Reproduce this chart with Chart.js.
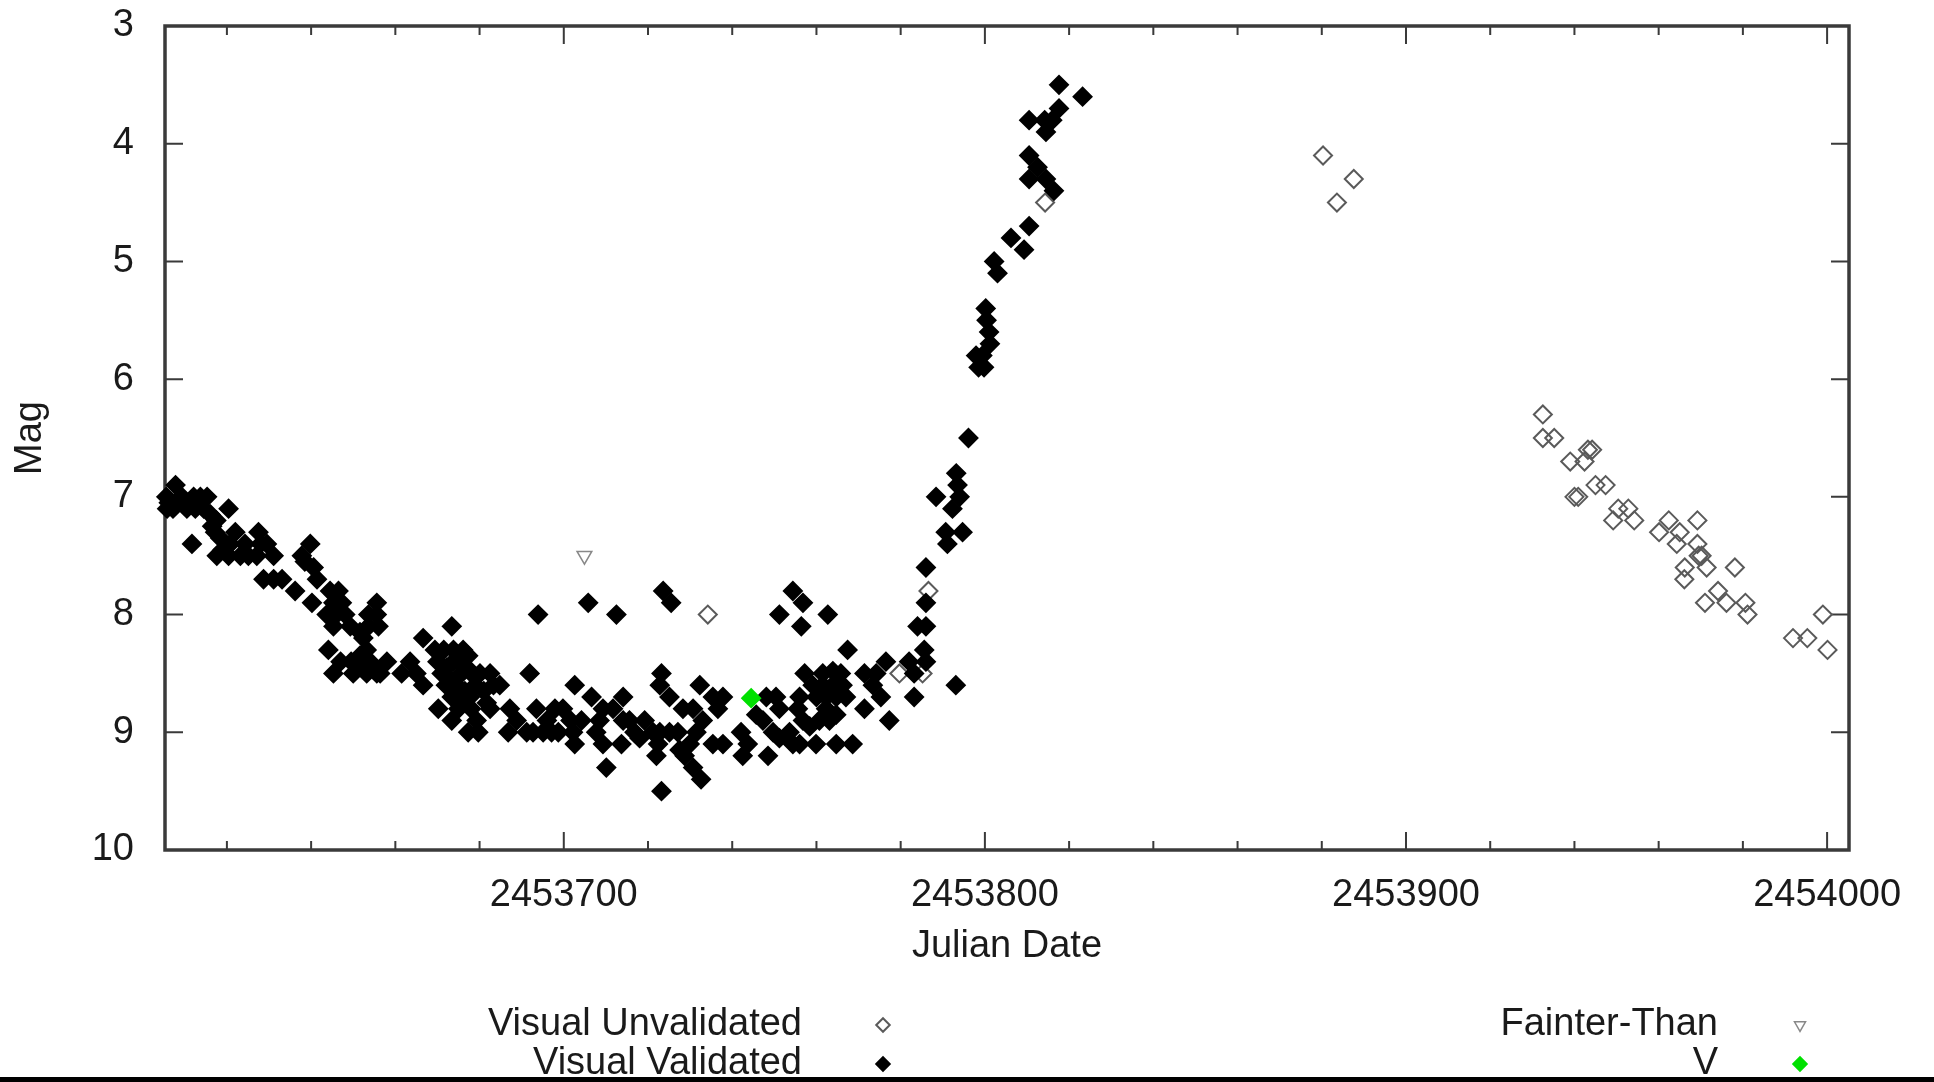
<!DOCTYPE html>
<html>
<head>
<meta charset="utf-8">
<script src="https://cdn.jsdelivr.net/npm/chart.js@4.4.1/dist/chart.umd.min.js"></script>
<style>
  html, body { margin: 0; padding: 0; background: #fff; }
  #wrap { width: 1934px; height: 1082px; }
</style>
</head>
<body>
<div id="wrap"><canvas id="lightCurve" width="1934" height="1082"></canvas></div>
<script>
// axis ranges and tick labels
const jdMin = 2453605.3;
const jdMax = 2454005.2;
const jdLabels = [2453700, 2453800, 2453900, 2454000];
const jdMinorStep = 20;
const magTicks = [3, 4, 5, 6, 7, 8, 9, 10];

// observations: [Julian Date, magnitude]
const validated = [
  [2453605.6,7.0],[2453606.2,7.05],[2453607.8,6.9],[2453607.8,7.05],[2453609.3,7.0],[2453605.8,7.1],[2453607.2,7.1],
  [2453610.5,7.1],[2453612.1,7.0],[2453613.7,7.0],[2453615.3,7.0],[2453612.5,7.1],[2453611.7,7.4],[2453614.5,7.1],
  [2453616.1,7.15],[2453617.5,7.2],[2453620.4,7.1],[2453616.5,7.25],[2453617.2,7.3],[2453618.4,7.35],[2453617.6,7.5],
  [2453619.0,7.45],[2453620.8,7.4],[2453622.0,7.3],[2453620.4,7.5],[2453623.2,7.5],[2453625.1,7.5],[2453624.3,7.4],
  [2453627.5,7.3],[2453628.0,7.4],[2453627.1,7.5],[2453629.5,7.4],[2453631.1,7.5],[2453628.7,7.7],[2453631.1,7.7],
  [2453633.1,7.7],
  [2453636.2,7.8],[2453637.8,7.5],[2453639.8,7.4],[2453638.5,7.55],[2453640.6,7.6],[2453641.4,7.7],[2453640.2,7.9],
  [2453644.5,7.8],[2453646.5,7.8],[2453645.3,7.9],[2453647.3,7.9],[2453643.7,8.0],[2453646.0,8.0],[2453645.3,8.1],
  [2453648.1,8.0],[2453649.3,8.1],[2453644.1,8.3],[2453645.3,8.5],[2453647.0,8.4],[2453649.5,8.4],[2453650.0,8.5],
  [2453652.0,8.45],[2453653.2,8.5],[2453655.6,8.5],[2453655.6,7.9],[2453653.6,8.0],[2453655.6,8.0],[2453656.0,8.1],
  [2453653.6,8.1],[2453651.6,8.15],[2453652.4,8.2],[2453653.2,8.3],[2453651.6,8.35],[2453654.0,8.4],[2453654.8,8.45],
  [2453658.0,8.4],[2453656.4,8.5],
  [2453661.5,8.5],[2453666.6,8.2],[2453663.5,8.4],[2453665.0,8.5],[2453666.6,8.6],[2453673.4,8.1],[2453669.4,8.3],
  [2453671.5,8.3],[2453673.8,8.3],[2453676.1,8.3],[2453677.3,8.35],[2453670.0,8.4],[2453672.2,8.45],[2453673.8,8.4],
  [2453675.3,8.4],[2453677.0,8.45],[2453671.0,8.5],[2453673.0,8.55],[2453675.7,8.5],[2453678.1,8.5],[2453680.1,8.5],
  [2453682.5,8.5],[2453683.3,8.6],[2453684.8,8.6],[2453672.0,8.6],[2453674.5,8.6],[2453676.5,8.65],[2453679.0,8.6],
  [2453681.0,8.65],[2453670.2,8.8],[2453673.4,8.7],[2453675.3,8.75],[2453677.7,8.7],[2453675.0,8.8],[2453678.0,8.8],
  [2453673.4,8.9],[2453679.3,8.9],[2453677.3,9.0],[2453679.7,9.0],[2453681.7,8.75],[2453682.5,8.8],[2453686.8,9.0],
  [2453687.2,8.8],[2453688.8,8.9],[2453691.2,9.0],[2453692.7,9.0],[2453695.1,9.0],[2453697.1,9.0],[2453698.7,9.0],
  [2453693.5,8.8],[2453696.0,8.9],[2453697.9,8.8],[2453699.8,8.8],[2453701.6,8.9],[2453691.9,8.5],[2453693.9,8.0],
  [2453702.6,8.6],[2453706.6,8.7],[2453714.1,8.7],[2453702.2,9.0],[2453704.2,8.9],[2453709.3,8.8],[2453708.5,8.9],
  [2453707.7,9.0],[2453709.3,9.1],[2453711.7,8.8],[2453714.1,8.9],[2453715.6,8.9],[2453719.2,8.9],[2453702.6,9.1],
  [2453713.7,9.1],[2453710.1,9.3],[2453705.8,7.9],[2453712.5,8.0],[2453723.6,7.8],[2453725.5,7.9],[2453723.2,8.5],
  [2453722.8,8.6],[2453725.1,8.7],[2453728.3,8.8],[2453730.7,8.8],[2453721.2,9.0],[2453722.8,9.0],[2453725.1,9.0],
  [2453727.1,9.0],[2453722.4,9.1],[2453722.0,9.2],[2453723.2,9.5],[2453732.3,8.6],[2453735.4,8.7],[2453737.8,8.7],
  [2453736.6,8.8],[2453733.0,8.9],[2453731.5,9.0],[2453729.9,9.1],[2453727.5,9.15],[2453728.7,9.2],[2453730.7,9.3],
  [2453732.6,9.4],[2453735.4,9.1],[2453737.8,9.1],[2453716.8,9.0],[2453718.0,9.05],
  [2453742.1,9.0],[2453742.5,9.2],[2453743.7,9.1],[2453745.7,8.85],[2453747.3,8.9],[2453748.5,9.2],[2453748.1,8.7],
  [2453750.4,8.7],[2453751.2,8.8],[2453749.7,9.0],[2453751.2,9.05],[2453753.6,9.0],[2453754.4,9.1],[2453756.0,9.1],
  [2453754.4,7.8],[2453756.8,7.9],[2453751.2,8.0],[2453756.4,8.1],[2453762.7,8.0],[2453757.2,8.5],[2453756.0,8.7],
  [2453755.6,8.8],[2453756.8,8.9],[2453758.4,8.95],[2453759.1,8.6],[2453760.0,8.7],[2453761.5,8.5],[2453763.9,8.48],
  [2453765.8,8.5],[2453761.5,8.6],[2453763.9,8.6],[2453766.2,8.6],[2453762.3,8.7],[2453764.7,8.7],[2453767.0,8.7],
  [2453762.3,8.8],[2453764.7,8.85],[2453760.7,8.9],[2453763.1,8.9],[2453759.9,9.1],[2453764.7,9.1],[2453768.6,9.1],
  [2453767.4,8.3],[2453771.4,8.5],[2453773.4,8.6],[2453771.4,8.8],[2453775.3,8.7],[2453777.3,8.9],[2453776.5,8.4],
  [2453774.2,8.5],[2453782.0,8.4],[2453783.2,8.5],[2453783.2,8.7],[2453785.6,8.3],[2453786.0,8.4],[2453784.0,8.1],
  [2453786.0,8.1],[2453786.0,7.9],[2453786.0,7.6],[2453793.1,8.6],[2453791.1,7.4],[2453790.7,7.3],[2453794.7,7.3],
  [2453788.4,7.0],[2453792.3,7.1],[2453793.5,6.9],[2453794.0,7.0],[2453793.2,6.8],[2453796.1,6.5],
  [2453797.9,5.8],[2453798.5,5.9],[2453799.8,5.9],[2453799.4,5.8],[2453800.2,5.4],[2453800.4,5.5],[2453801.0,5.6],
  [2453801.2,5.7],[2453802.2,5.0],[2453803.0,5.1],[2453806.2,4.8],[2453809.3,4.9],[2453810.5,4.7],[2453816.4,4.4],
  [2453814.5,4.3],[2453810.5,4.3],[2453812.5,4.2],[2453810.5,4.1],[2453814.5,3.9],[2453810.5,3.8],[2453814.2,3.8],
  [2453816.0,3.8],[2453817.6,3.7],[2453817.6,3.5],[2453823.2,3.6]
];
const unvalidated = [
  [2453734.2,8.0],[2453779.7,8.5],[2453785.2,8.5],[2453786.6,7.8],[2453814.3,4.5],
  [2453880.3,4.1],[2453883.6,4.5],[2453887.6,4.3],
  [2453932.5,6.3],[2453932.5,6.5],[2453935.2,6.5],[2453939.0,6.7],[2453942.4,6.7],[2453943.2,6.6],[2453944.2,6.6],
  [2453940.0,7.0],[2453940.9,7.0],[2453945.0,6.9],[2453947.4,6.9],[2453950.4,7.1],[2453952.8,7.1],[2453949.2,7.2],
  [2453954.2,7.2],[2453960.1,7.3],[2453962.4,7.2],[2453965.0,7.3],[2453964.3,7.4],[2453969.2,7.2],[2453969.2,7.4],
  [2453969.5,7.5],[2453970.2,7.5],[2453966.2,7.6],[2453971.4,7.6],[2453966.1,7.7],[2453978.1,7.6],[2453974.1,7.8],
  [2453971.0,7.9],[2453976.1,7.9],[2453980.6,7.9],[2453981.1,8.0],[2453999.0,8.0],[2453991.9,8.2],[2453995.3,8.2],
  [2454000.1,8.3]
];
const fainterThan = [[2453704.9,7.5]];
const vBand = [[2453744.5,8.71]];

const toPoints = list => list.map(p => ({ x: p[0], y: p[1] }));
const textFont = { family: '"Liberation Sans", Arial, sans-serif', size: 38 };
const textColor = '#1a1a1a';
const frameColor = '#3a3a3a';

// keep the plot box exactly where the layout padding puts it
const noOverhang = s => { s.paddingTop = 0; s.paddingBottom = 0; s.paddingLeft = 0; s.paddingRight = 0; };

// plot border with inward tick marks on all four sides
const framePlugin = {
  id: 'frame',
  beforeDatasetsDraw(chart) {
    const { ctx, chartArea: a, scales: { x, y } } = chart;
    ctx.save();
    ctx.strokeStyle = frameColor;
    ctx.lineWidth = 2;
    ctx.beginPath();
    for (let v = Math.ceil(jdMin / jdMinorStep) * jdMinorStep; v <= jdMax; v += jdMinorStep) {
      const px = x.getPixelForValue(v);
      const len = v % 100 === 0 ? 18 : 9;
      ctx.moveTo(px, a.bottom); ctx.lineTo(px, a.bottom - len);
      ctx.moveTo(px, a.top); ctx.lineTo(px, a.top + len);
    }
    magTicks.forEach(m => {
      const py = y.getPixelForValue(m);
      ctx.moveTo(a.left, py); ctx.lineTo(a.left + 18, py);
      ctx.moveTo(a.right, py); ctx.lineTo(a.right - 18, py);
    });
    ctx.stroke();
    ctx.lineWidth = 3.5;
    ctx.strokeRect(a.left, a.top, a.right - a.left, a.bottom - a.top);
    ctx.restore();
  }
};

// gnuplot-like key: text right aligned, symbol to its right
const keyPlugin = {
  id: 'key',
  afterDraw(chart) {
    const ctx = chart.ctx;
    const slots = [
      { ds: 0, textX: 802, markX: 883, y: 1025 },
      { ds: 1, textX: 802, markX: 883, y: 1064 },
      { ds: 2, textX: 1718, markX: 1800, y: 1025 },
      { ds: 3, textX: 1718, markX: 1800, y: 1064 }
    ];
    ctx.save();
    ctx.font = '38px "Liberation Sans", Arial, sans-serif';
    ctx.textAlign = 'right';
    ctx.textBaseline = 'middle';
    slots.forEach(s => {
      const d = chart.data.datasets[s.ds];
      ctx.fillStyle = textColor;
      ctx.fillText(d.label, s.textX, s.y);
      ctx.fillStyle = d.backgroundColor;
      ctx.strokeStyle = d.borderColor;
      ctx.lineWidth = d.borderWidth;
      Chart.helpers.drawPoint(ctx, {
        pointStyle: d.pointStyle, rotation: d.pointRotation || 0,
        radius: d.pointRadius * 0.75, borderWidth: d.borderWidth
      }, s.markX, s.y);
    });
    ctx.fillStyle = '#000';
    ctx.fillRect(0, 1077, chart.width, 5);
    ctx.restore();
  }
};

new Chart(document.getElementById('lightCurve'), {
  type: 'scatter',
  data: {
    datasets: [
      {
        label: 'Visual Unvalidated', data: toPoints(unvalidated), order: 3,
        pointStyle: 'rectRot', pointRadius: 9, borderWidth: 2,
        borderColor: '#5a5a5a', backgroundColor: 'rgba(255,255,255,0)', clip: false
      },
      {
        label: 'Visual Validated', data: toPoints(validated), order: 2,
        pointStyle: 'rectRot', pointRadius: 9, borderWidth: 2,
        borderColor: '#000', backgroundColor: '#000', clip: false
      },
      {
        label: 'Fainter-Than', data: toPoints(fainterThan), order: 1,
        pointStyle: 'triangle', pointRotation: 180, pointRadius: 8.5, borderWidth: 1.5,
        borderColor: '#888', backgroundColor: 'rgba(255,255,255,0)', clip: false
      },
      {
        label: 'V', data: toPoints(vBand), order: 0,
        pointStyle: 'rectRot', pointRadius: 9, borderWidth: 2,
        borderColor: '#00e000', backgroundColor: '#00e000', clip: false
      }
    ]
  },
  options: {
    responsive: false,
    animation: false,
    events: [],
    layout: { padding: { top: 26, right: 85, bottom: 102, left: 0 } },
    plugins: { legend: { display: false }, tooltip: { enabled: false } },
    scales: {
      x: {
        type: 'linear', position: 'bottom', min: jdMin, max: jdMax,
        grid: { display: false }, border: { display: false },
        afterBuildTicks: s => { s.ticks = jdLabels.map(v => ({ value: v })); },
        afterFit: s => { s.height = 130; noOverhang(s); },
        ticks: { font: textFont, color: textColor, padding: 15, maxRotation: 0, autoSkip: false,
                 callback: v => String(v) },
        title: { display: true, text: 'Julian Date', font: textFont, color: textColor,
                 padding: { top: 0, bottom: 11 } }
      },
      y: {
        type: 'linear', position: 'left', reverse: true, min: magTicks[0], max: magTicks[magTicks.length - 1],
        grid: { display: false }, border: { display: false },
        afterFit: s => { s.width = 165; noOverhang(s); },
        ticks: { stepSize: 1, font: textFont, color: textColor, padding: 23 },
        title: { display: true, text: 'Mag', font: textFont, color: textColor,
                 padding: { top: 8, bottom: 0 } }
      }
    }
  },
  plugins: [framePlugin, keyPlugin]
});
</script>
</body>
</html>
